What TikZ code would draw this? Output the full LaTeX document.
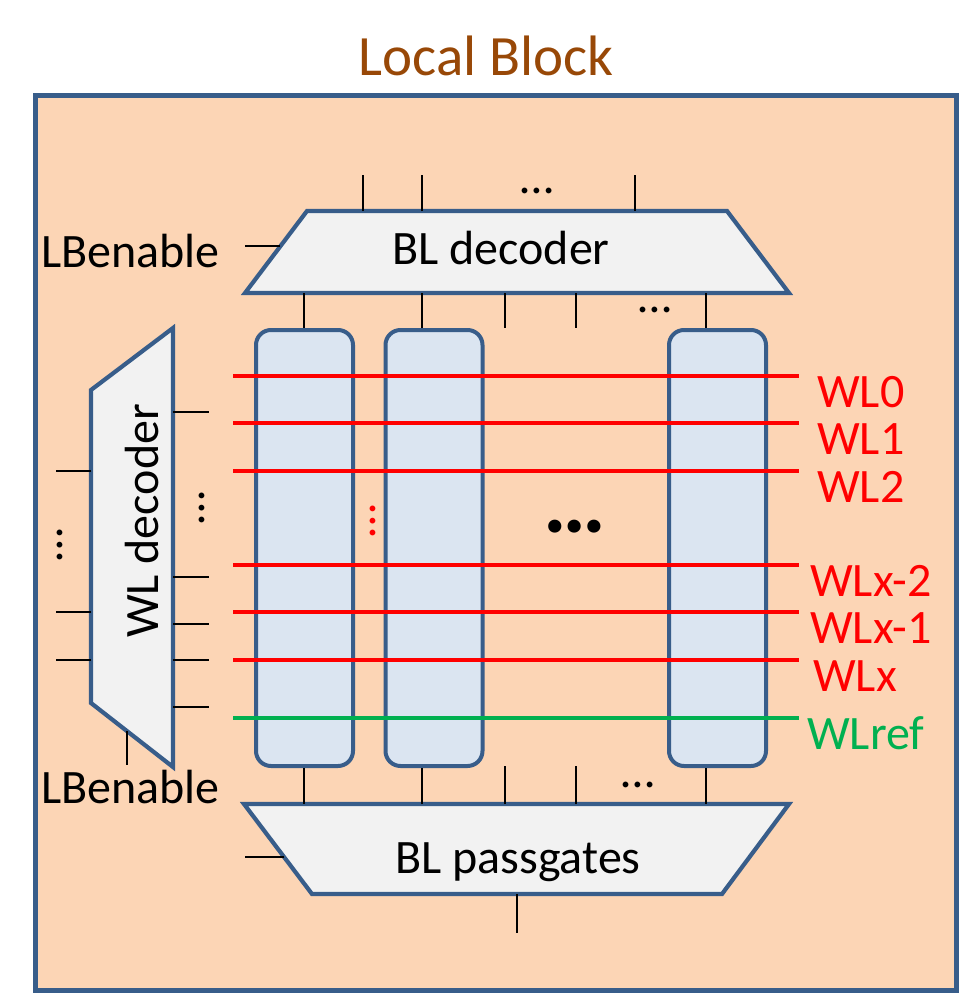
\documentclass[tikz,border=0pt]{standalone}
\usepackage{fontspec}
\setmainfont{Carlito}
\usepackage{tikz}
\usetikzlibrary{calc}
\definecolor{lbpeach}{HTML}{FCD5B5}
\definecolor{lbblue}{HTML}{385D8A}
\definecolor{lbgrey}{HTML}{F2F2F2}
\definecolor{lbcell}{HTML}{DBE5F1}
\definecolor{lbbrown}{HTML}{984807}
\definecolor{lbgreen}{HTML}{00B050}
\tikzset{%
  % Specifications for style of nodes:
        txt/.style = {inner sep=0pt, font=\fontsize{48}{58}\selectfont},
      block/.style = {rectangle, draw=lbblue, line width=4.8pt, fill=lbpeach,
                      minimum width=921pt, minimum height=895pt, anchor=north west},
    decoder/.style = {draw=lbblue, line width=4.2pt, fill=lbgrey},
     column/.style = {rectangle, rounded corners=15pt, draw=lbblue, line width=4pt,
                      fill=lbcell, minimum width=97pt, minimum height=436pt,
                      inner sep=0pt},
        pin/.style = {draw=black, line width=2.4pt},
   wordline/.style = {line width=4pt}
}
\begin{document}
\begin{tikzpicture}[x=1pt, y=-1pt]
  \useasboundingbox (0,0) rectangle (967,993);
  % Local block frame and title
  \node (block) [block] at (33,93) {};
  \node (title) [txt, font=\fontsize{57}{68}\selectfont, text=lbbrown, anchor=base] at (486,75) {Local Block};

  % Decoders
  \draw[decoder] (245,293) coordinate (bldec-sw) -- (307,211) coordinate (bldec-nw)
    -- (727,211) coordinate (bldec-ne) -- (789,293) coordinate (bldec-se) -- cycle;
  \node (bldect) [txt, anchor=base] at (501,264) {BL decoder};
  \draw[decoder] (244,804) coordinate (bpass-nw) -- (789,804) coordinate (bpass-ne)
    -- (722,894) coordinate (bpass-se) -- (312,894) coordinate (bpass-sw) -- cycle;
  \node (bpasst) [txt, anchor=base] at (518,873) {BL passgates};
  \draw[decoder] (91,390) coordinate (wldec-nw) -- (173,328) coordinate (wldec-ne)
    -- (173,767) coordinate (wldec-se) -- (91,703) coordinate (wldec-sw) -- cycle;
  \node (wldect) [txt, rotate=90] at (142,521) {WL decoder};

  % Bit line columns
  \node (col1) [column] at (304.5,548) {};
  \node (col2) [column] at (434,548) {};
  \node (col3) [column] at (717.5,548) {};

  % BL decoder pins
  \foreach \x in {363,422,635}
    \draw[pin] (\x,0 |- bldec-nw) -- ++(0,-36);
  \draw[pin] (304,0 |- bldec-sw) -- (304,0 |- col1.north);
  \draw[pin] (422,0 |- bldec-sw) -- (422,0 |- col2.north);
  \draw[pin] (706,0 |- bldec-sw) -- (706,0 |- col3.north);
  \foreach \x in {505,576}
    \draw[pin] (\x,0 |- bldec-sw) -- ++(0,35);
  \draw[pin] ($(bldec-sw)!0.57!(bldec-nw)$) -- ++(-35,0);

  % BL passgates pins
  \draw[pin] (304,0 |- col1.south) -- (304,0 |- bpass-nw);
  \draw[pin] (422,0 |- col2.south) -- (422,0 |- bpass-nw);
  \draw[pin] (706,0 |- col3.south) -- (706,0 |- bpass-nw);
  \foreach \x in {505,576}
    \draw[pin] (\x,0 |- bpass-nw) -- ++(0,-38);
  \draw[pin] ($(bpass-nw)!0.59!(bpass-sw)$) -- ++(-39,0);
  \draw[pin] (517,0 |- bpass-sw) -- ++(0,39);

  % WL decoder pins
  \foreach \y in {412,577,624,660,707}
    \draw[pin] (wldec-ne |- 0,\y) -- ++(36,0);
  \foreach \y in {471,612,660}
    \draw[pin] (wldec-nw |- 0,\y) -- ++(-35,0);
  \draw[pin] ($(wldec-sw)!0.44!(wldec-se)$) -- ++(0,34);

  % Word lines
  \foreach \y/\x/\n [count=\i] in {376/817/WL0, 423/817/WL1, 471/817/WL2,
      565/810/WLx-2, 612/810/WLx-1, 660/813/WLx} {
    \draw[wordline, red] (233,\y) -- (799,\y);
    \node (wl\i) [txt, text=red, anchor=base west] at (\x,\y+31) {\n};
  }
  \draw[wordline, lbgreen] (233,718) -- (799,718);
  \node (wlref) [txt, text=lbgreen, anchor=base west] at (807,749) {WLref};

  % Labels and dots
  \node (lbtop) [txt, anchor=base east] at (220,267) {LBenable};
  \node (lbbot) [txt, anchor=base west] at (41,803) {LBenable};
  \node (dotst) [txt] at (537,191) {…};
  \node (dotsb) [txt] at (655,310) {…};
  \node (dotsp) [txt] at (638,785) {…};
  \node (vdotl) [txt, rotate=90] at (60,545) {…};
  \node (vdotr) [txt, rotate=90] at (202,508) {…};
  \node (vdotc) [txt, rotate=90, text=red] at (373,521) {…};
  \node (hdots) [txt, font=\fontsize{88}{90}\bfseries\selectfont] at (575,527) {…};
\end{tikzpicture}
\end{document}
